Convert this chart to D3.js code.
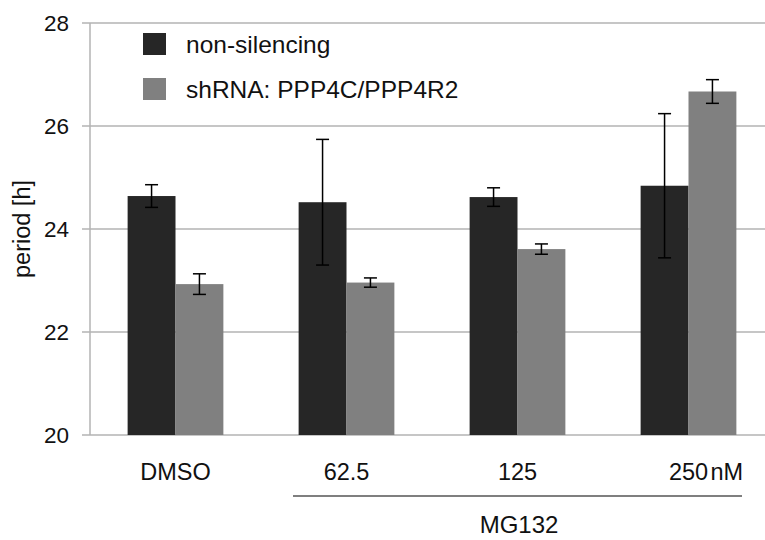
<!DOCTYPE html>
<html><head><meta charset="utf-8">
<script src="https://cdn.jsdelivr.net/npm/d3@7"></script>
<style>body{margin:0;background:#fff}svg{display:block;font-family:"Liberation Sans",Arial,sans-serif}</style>
</head><body><svg id="c" width="765" height="540"></svg>
<script>
const categories = ["DMSO", "62.5", "125", "250"];
const seriesNames = ["non-silencing", "shRNA: PPP4C/PPP4R2"];
const nonSilencing = [24.64, 24.52, 24.62, 24.84];
const nonSilencingErr = [0.22, 1.22, 0.18, 1.40];
const shRNA = [22.93, 22.96, 23.61, 26.67];
const shRNAErr = [0.20, 0.09, 0.10, 0.23];
const yTicks = [20, 22, 24, 26, 28];
const colors = ["#262626", "#808080"];

const svg = d3.select("#c");
const x = d3.scaleBand().domain(categories).range([90, 774]).paddingInner(0.44).paddingOuter(0.22);
const y = d3.scaleLinear().domain([20, 28]).range([435, 23]);
const xs = d3.scaleBand().domain([0, 1]).range([0, x.bandwidth()]);

svg.append("g").selectAll("line").data(yTicks).join("line")
  .attr("x1", 82).attr("x2", 765)
  .attr("y1", d => y(d)).attr("y2", d => y(d))
  .attr("stroke", "#b3b3b3").attr("stroke-width", 1.5);
svg.append("line").attr("x1", 90).attr("x2", 90).attr("y1", y(28)).attr("y2", y(20))
  .attr("stroke", "#b3b3b3").attr("stroke-width", 1.5);
svg.append("g").selectAll("text").data(yTicks).join("text")
  .attr("x", 69).attr("y", d => y(d)).attr("dy", "0.35em")
  .attr("text-anchor", "end").attr("font-size", 22.5).attr("fill", "#111")
  .text(d => d);

const data = [];
categories.forEach((c, i) => {
  data.push({c, s: 0, v: nonSilencing[i], e: nonSilencingErr[i]});
  data.push({c, s: 1, v: shRNA[i], e: shRNAErr[i]});
});

svg.append("g").selectAll("rect").data(data).join("rect")
  .attr("x", d => x(d.c) + xs(d.s)).attr("width", xs.bandwidth())
  .attr("y", d => y(d.v)).attr("height", d => y(20) - y(d.v))
  .attr("fill", d => colors[d.s]);

const eb = svg.append("g").attr("stroke", "#000").attr("stroke-width", 1.5);
data.forEach(d => {
  const cx = x(d.c) + xs(d.s) + xs.bandwidth() / 2;
  const y1 = y(d.v + d.e), y2 = y(d.v - d.e);
  eb.append("line").attr("x1", cx).attr("x2", cx).attr("y1", y1).attr("y2", y2);
  eb.append("line").attr("x1", cx - 6.5).attr("x2", cx + 6.5).attr("y1", y1).attr("y2", y1);
  eb.append("line").attr("x1", cx - 6.5).attr("x2", cx + 6.5).attr("y1", y2).attr("y2", y2);
});

svg.append("g").selectAll("text").data(categories).join("text")
  .attr("x", d => x(d) + x.bandwidth() / 2).attr("y", 480)
  .attr("text-anchor", "middle").attr("font-size", 23.5).attr("fill", "#111")
  .text(d => d);
svg.append("text").attr("x", x("250") + x.bandwidth() / 2 + 22).attr("y", 480)
  .attr("font-size", 23.5).attr("fill", "#111").text("nM");

svg.append("line").attr("x1", 293).attr("x2", 742).attr("y1", 496).attr("y2", 496)
  .attr("stroke", "#000").attr("stroke-width", 1.2);
svg.append("text").attr("x", 519).attr("y", 533)
  .attr("text-anchor", "middle").attr("font-size", 24).attr("fill", "#111").text("MG132");

svg.append("text").attr("transform", `translate(30,${(y(20)+y(28))/2}) rotate(-90)`)
  .attr("text-anchor", "middle").attr("font-size", 23.5).attr("fill", "#111").text("period [h]");

const lg = svg.append("g");
seriesNames.forEach((n, i) => {
  lg.append("rect").attr("x", 143).attr("y", 33 + i * 45).attr("width", 23).attr("height", 22)
    .attr("fill", colors[i]);
  lg.append("text").attr("x", 186).attr("y", 44 + i * 45).attr("dy", "0.35em")
    .attr("font-size", 24.5).attr("fill", "#111").text(n);
});
</script></body></html>
